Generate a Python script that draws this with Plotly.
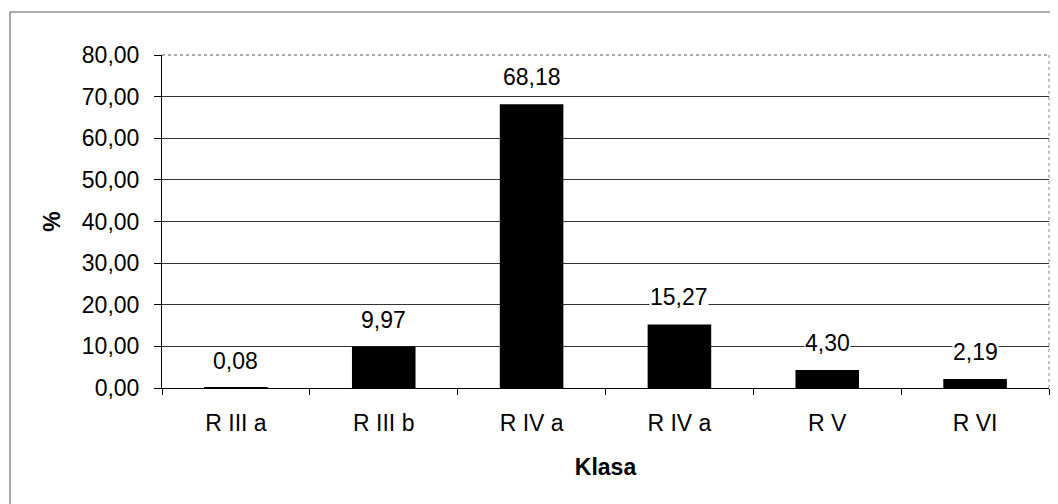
import plotly.graph_objects as go

categories = ["R III a", "R III b", "R IV a", "R IV a", "R V", "R VI"]
values = [0.08, 9.97, 68.18, 15.27, 4.30, 2.19]
y_ticks = [0, 10, 20, 30, 40, 50, 60, 70, 80]
y_tick_labels = ["0,00", "10,00", "20,00", "30,00", "40,00", "50,00", "60,00", "70,00", "80,00"]

# page offset of the figure (default body margin)
OFF = 8
W, H = 1058 - OFF, 504 - OFF
L, R, T, B = 162 - OFF, 9, 55 - OFF, 116
pw, ph = W - L - R, H - T - B

def px(x):
    return (x - OFF - L) / pw

def py(y):
    return (H - B - (y - OFF)) / ph

xpos = list(range(len(categories)))
font = "Liberation Sans, Arial, sans-serif"
FS = 23

fig = go.Figure()
fig.add_trace(go.Bar(
    x=xpos, y=values,
    marker=dict(color="black", line=dict(width=0)),
    width=0.43,
    hoverinfo="skip",
))

for x, v in zip(xpos, values):
    fig.add_annotation(
        x=x, y=v, xref="x", yref="y",
        text=f"{v:.2f}".replace(".", ","),
        showarrow=False, yanchor="bottom", yshift=13,
        font=dict(family=font, size=FS, color="black"),
        bgcolor="white", borderpad=0,
    )

fig.update_layout(
    width=W, height=H,
    margin=dict(l=L, r=R, t=T, b=B, autoexpand=False),
    paper_bgcolor="white", plot_bgcolor="white",
    showlegend=False,
    font=dict(family=font, size=FS, color="black"),
    xaxis=dict(
        range=[-0.5, len(categories) - 0.5],
        tickmode="array", tickvals=xpos, ticktext=categories,
        ticks="", showgrid=False, zeroline=False,
        showline=True, linecolor="black", linewidth=1,
        tickfont=dict(size=FS), ticklabelstandoff=14,
        minor=dict(tickmode="array", tickvals=[i + 0.5 for i in range(-1, len(categories))],
                   ticks="outside", ticklen=6, tickcolor="black", showgrid=False),
        title=dict(text="<b>Klasa</b>", font=dict(size=FS), standoff=24),
        fixedrange=True,
    ),
    yaxis=dict(
        range=[0, 80],
        tickmode="array", tickvals=y_ticks, ticktext=y_tick_labels,
        ticks="outside", ticklen=7, tickcolor="black",
        showgrid=True, gridcolor="#333333", gridwidth=1,
        zeroline=False, showline=True, linecolor="black", linewidth=1,
        tickfont=dict(size=FS), ticklabelstandoff=10,
        title=dict(text="<b>%</b>", font=dict(size=FS), standoff=14),
        fixedrange=True,
    ),
)

# plot-area top/right border (light dotted)
fig.add_shape(type="line", xref="paper", yref="paper", x0=0, x1=1, y0=1, y1=1,
              line=dict(color="#555555", width=1, dash="dot"))
fig.add_shape(type="line", xref="paper", yref="paper", x0=1, x1=1, y0=0, y1=1,
              line=dict(color="#888888", width=1, dash="dot"))
# outer chart frame (left and top)
fig.add_shape(type="line", xref="paper", yref="paper", x0=px(10), x1=px(1058), y0=py(12), y1=py(12),
              line=dict(color="#555555", width=1))
fig.add_shape(type="line", xref="paper", yref="paper", x0=px(10), x1=px(10), y0=py(12), y1=py(504),
              line=dict(color="#555555", width=1))

fig.write_html("out.html")
